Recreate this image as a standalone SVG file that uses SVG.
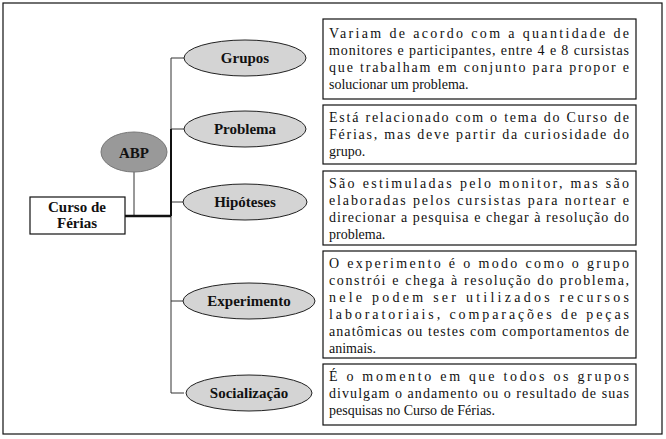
<svg xmlns="http://www.w3.org/2000/svg" width="666" height="439" viewBox="0 0 666 439">
<style>
.e{fill:#d4d4d4;stroke:#222;stroke-width:1}
.l{font-family:'Liberation Serif','Times New Roman','DejaVu Serif',serif;font-weight:bold;font-size:15px;fill:#111;text-anchor:middle}
.b{fill:#fff;stroke:#111;stroke-width:1.2}
.t{font-family:'Liberation Serif','Times New Roman','DejaVu Serif',serif;font-size:14px;fill:#111}
.c{stroke:#333;fill:none;stroke-width:1}
</style>
<rect x="3" y="3" width="659" height="431" fill="#fff" stroke="#111" stroke-width="1.2"/>
<g id="connectors">
<path class="c" d="M171 58H184M171 58V393H184M171 129H184M171 202H184M171 301H184"/>
<path class="c" d="M134 170V216"/>
<path d="M125 216H171" stroke="#111" stroke-width="2.5"/>
<path d="M171 129V216" stroke="#111" stroke-width="2"/>
</g>
<g id="curso"><rect class="b" x="30" y="197" width="95" height="37"/><text class="l" x="77" y="212">Curso de</text><text class="l" x="77" y="228">Férias</text></g>
<g id="abp"><ellipse cx="134" cy="152" rx="33" ry="20" fill="#999" stroke="#777"/><text class="l" x="134" y="158">ABP</text></g>
<g id="grupos"><ellipse class="e" cx="245" cy="58" rx="61" ry="18"/><text class="l" x="245" y="63">Grupos</text></g>
<g id="problema"><ellipse class="e" cx="245" cy="129" rx="61" ry="18"/><text class="l" x="245" y="134">Problema</text></g>
<g id="hipoteses"><ellipse class="e" cx="245" cy="202" rx="62" ry="18"/><text class="l" x="245" y="207">Hipóteses</text></g>
<g id="experimento"><ellipse class="e" cx="249" cy="301" rx="66" ry="18"/><text class="l" x="249" y="306">Experimento</text></g>
<g id="socializacao"><ellipse class="e" cx="249" cy="393" rx="63" ry="18"/><text class="l" x="249" y="398">Socialização</text></g>
<g id="box1"><rect class="b" x="323" y="19" width="313" height="80"/>
<text class="t" x="329" y="38" textLength="300">Variam de acordo com a quantidade de</text>
<text class="t" x="329" y="55" textLength="300">monitores e participantes, entre 4 e 8 cursistas</text>
<text class="t" x="329" y="72" textLength="300">que trabalham em conjunto para propor e</text>
<text class="t" x="329" y="89">solucionar um problema.</text></g>
<g id="box2"><rect class="b" x="323" y="105" width="313" height="59"/>
<text class="t" x="329" y="122" textLength="300">Está relacionado com o tema do Curso de</text>
<text class="t" x="329" y="139" textLength="300">Férias, mas deve partir da curiosidade do</text>
<text class="t" x="329" y="156">grupo.</text></g>
<g id="box3"><rect class="b" x="323" y="171" width="313" height="74"/>
<text class="t" x="329" y="188" textLength="300">São estimuladas pelo monitor, mas são</text>
<text class="t" x="329" y="205" textLength="300">elaboradas pelos cursistas para nortear e</text>
<text class="t" x="329" y="222" textLength="300">direcionar a pesquisa e chegar à resolução do</text>
<text class="t" x="329" y="239">problema.</text></g>
<g id="box4"><rect class="b" x="323" y="251" width="313" height="107"/>
<text class="t" x="329" y="268" textLength="300">O experimento é o modo como o grupo</text>
<text class="t" x="329" y="285" textLength="300">constrói e chega à resolução do problema,</text>
<text class="t" x="329" y="302" textLength="300">nele podem ser utilizados recursos</text>
<text class="t" x="329" y="319" textLength="300">laboratoriais, comparações de peças</text>
<text class="t" x="329" y="336" textLength="300">anatômicas ou testes com comportamentos de</text>
<text class="t" x="329" y="353">animais.</text></g>
<g id="box5"><rect class="b" x="323" y="364" width="313" height="61"/>
<text class="t" x="329" y="381" textLength="300">É o momento em que todos os grupos</text>
<text class="t" x="329" y="398" textLength="300">divulgam o andamento ou o resultado de suas</text>
<text class="t" x="329" y="415">pesquisas no Curso de Férias.</text></g>
</svg>
